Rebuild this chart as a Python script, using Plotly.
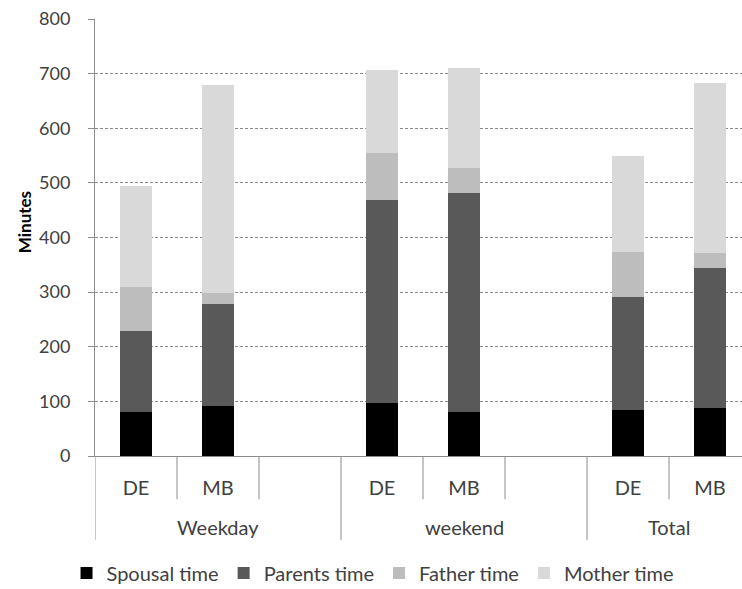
import plotly.graph_objects as go

# Time use (minutes) by day type and group
groups = ["Weekday", "weekend", "Total"]
slot_labels = ["DE", "MB", "", "DE", "MB", "", "DE", "MB"]
slot_group = [0, 0, 0, 1, 1, 1, 2, 2]

spousal = [80, 91, None, 97, 80, None, 85, 87]
parents = [148, 188, None, 371, 402, None, 206, 257]
father = [82, 20, None, 87, 45, None, 83, 28]
mother = [185, 381, None, 151, 184, None, 176, 311]

series = [
    ("Spousal time", spousal, "#000000"),
    ("Parents time", parents, "#595959"),
    ("Father time", father, "#bdbdbd"),
    ("Mother time", mother, "#d9d9d9"),
]

FONT = "Lato"
TEXT = "#404040"
AXIS = "#8c8c8c"

slots = list(range(len(slot_labels)))

fig = go.Figure()
for name, vals, color in series:
    fig.add_trace(go.Bar(
        x=slots, y=vals, name=name,
        marker=dict(color=color, line=dict(width=0)),
        width=0.4,
    ))

# Divider lines under the category axis
shapes = []
for k in range(len(slot_labels)):
    edge = k - 0.5
    long_line = k == 0 or slot_group[k] != slot_group[k - 1]
    shapes.append(dict(
        type="line", xref="x", yref="paper",
        x0=edge, x1=edge, y0=0, y1=-0.192 if long_line else -0.099,
        line=dict(color=AXIS, width=1),
    ))

# Group labels centred under their slots
annotations = []
for gi, g in enumerate(groups):
    members = [s for s in slots if slot_group[s] == gi]
    centre = (members[0] - 0.5 + members[-1] + 0.5) / 2
    annotations.append(dict(
        text=g, x=centre, xref="x", y=-0.163, yref="paper",
        showarrow=False, xanchor="center", yanchor="middle",
        font=dict(family=FONT, size=20, color=TEXT),
    ))

# Value-axis title
annotations.append(dict(
    text="<b>Minutes</b>", textangle=-90,
    x=(24 - 95) / 647, xref="paper", xanchor="center",
    y=0.535, yref="paper", yanchor="middle",
    showarrow=False, font=dict(family=FONT, size=17, color="#000000"),
))

fig.update_layout(
    width=742, height=589,
    margin=dict(l=95, r=0, t=19, b=133, autoexpand=False),
    paper_bgcolor="white", plot_bgcolor="white",
    barmode="stack",
    font=dict(family=FONT, color=TEXT),
    shapes=shapes,
    annotations=annotations,
    showlegend=True,
    legend=dict(
        orientation="h", x=-0.044, xanchor="left", y=-0.268, yanchor="middle",
        font=dict(family=FONT, size=20, color=TEXT),
        itemwidth=30, traceorder="normal",
    ),
    xaxis=dict(
        range=[-0.5, 7.39],
        tickmode="array", tickvals=slots, ticktext=slot_labels,
        ticks="", ticklabelstandoff=14,
        tickfont=dict(family=FONT, size=20, color=TEXT),
        showline=True, linecolor=AXIS, linewidth=1,
        showgrid=False, zeroline=False,
    ),
    yaxis=dict(
        range=[0, 800], dtick=100,
        ticks="outside", ticklen=6, tickcolor=AXIS, ticklabelstandoff=14,
        tickfont=dict(family=FONT, size=18, color=TEXT),
        showline=True, linecolor=AXIS, linewidth=1,
        showgrid=True, gridcolor="#8a8a8a", griddash="3px,2px", gridwidth=1,
        zeroline=False,
    ),
)

fig.write_html("out.html")
